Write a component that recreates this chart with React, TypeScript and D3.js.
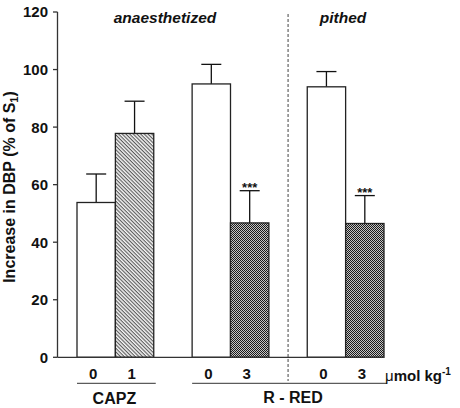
import React from "react";
import * as d3 from "d3";

const groups = ["CAPZ", "R - RED"];
const conditions = ["anaesthetized", "pithed"];
const doses = ["0", "1", "0", "3", "0", "3"];
const barGroup = [0, 0, 1, 1, 2, 2];
const barKind = ["control", "treat", "control", "treat", "control", "treat"];
const means = [53.8, 77.8, 95.0, 46.7, 94.0, 46.5];
const sems = [9.9, 11.2, 6.8, 11.2, 5.3, 9.7];
const stars = ["", "", "", "***", "", "***"];
const yTicks = [0, 20, 40, 60, 80, 100, 120];

const W = 460;
const H = 408;
const FONT = "Liberation Sans, Arial, Helvetica, sans-serif";

export default function App() {
  const y = d3.scaleLinear().domain([0, 120]).range([357.3, 12]);
  const gx = d3.scaleBand<number>().domain([0, 1, 2]).range([77, 384]).paddingInner(1 / 3).paddingOuter(0);
  const ix = d3.scaleBand<number>().domain([0, 1]).range([0, gx.bandwidth()]);
  const bw = ix.bandwidth();
  const barX = (i: number) => (gx(barGroup[i]) as number) + (ix(i % 2) as number);
  const axisColor = "#333";
  const dashX = ((gx(1) as number) + gx.bandwidth() + (gx(2) as number)) / 2;

  return (
    <svg width={W} height={H} style={{ position: "absolute", left: 0, top: 0, background: "#fff" }} fontFamily={FONT}>
      <defs>
        <pattern id="hatch" width="2.6" height="2.6" patternUnits="userSpaceOnUse" patternTransform="rotate(45)">
          <rect width="2.6" height="2.6" fill="#f4f4f4" />
          <rect width="2.6" height="1.1" fill="#5a5a5a" />
        </pattern>
        <pattern id="check" width="2" height="2" patternUnits="userSpaceOnUse">
          <rect width="2" height="2" fill="#c4c4c4" />
          <rect width="1" height="1" fill="#1a1a1a" />
          <rect x="1" y="1" width="1" height="1" fill="#1a1a1a" />
        </pattern>
      </defs>

      {/* bars */}
      {means.map((m, i) => {
        const x0 = barX(i);
        const fill = barKind[i] === "control" ? "#fff" : barGroup[i] === 0 ? "url(#hatch)" : "url(#check)";
        const cx = x0 + bw / 2;
        const yt = y(m + sems[i]);
        return (
          <g key={i}>
            <line x1={cx} x2={cx} y1={y(m)} y2={yt} stroke="#111" strokeWidth={1.3} />
            <line x1={cx - 10} x2={cx + 10} y1={yt} y2={yt} stroke="#111" strokeWidth={1.3} />
            <rect x={x0} y={y(m)} width={bw} height={y(0) - y(m)} fill={fill} stroke="#222" strokeWidth={1.3} />
            {stars[i] && (
              <text x={cx} y={yt + 1} textAnchor="middle" fontSize={13} fontWeight="bold" fill="#111">
                {stars[i]}
              </text>
            )}
            <text x={cx - 3} y={379} textAnchor="middle" fontSize={15} fontWeight="bold" fill="#111">
              {doses[i]}
            </text>
          </g>
        );
      })}

      {/* axes */}
      <line x1={57.5} x2={57.5} y1={y(120)} y2={y(0)} stroke={axisColor} strokeWidth={1.3} />
      <line x1={57.5} x2={384} y1={y(0)} y2={y(0)} stroke={axisColor} strokeWidth={1.3} />
      {yTicks.map((t) => (
        <g key={t}>
          <line x1={53} x2={57.5} y1={y(t)} y2={y(t)} stroke={axisColor} strokeWidth={1.3} />
          <text x={48} y={y(t)} dy="0.36em" textAnchor="end" fontSize={15} fontWeight="bold" fill="#111">
            {t}
          </text>
        </g>
      ))}

      {/* y label */}
      <text transform={`translate(15,187) rotate(-90)`} textAnchor="middle" fontSize={16} fontWeight="bold" fill="#111">
        Increase in DBP (% of S<tspan fontSize={11} dy="3">1</tspan><tspan dy="-3">)</tspan>
      </text>

      {/* dashed separator */}
      <line x1={dashX} x2={dashX} y1={14} y2={381} stroke="#444" strokeWidth={1} strokeDasharray="3,2" />

      {/* condition labels */}
      <text x={165} y={23} textAnchor="middle" fontSize={15.5} fontWeight="bold" fontStyle="italic" fill="#111">
        {conditions[0]}
      </text>
      <text x={343} y={23} textAnchor="middle" fontSize={15.5} fontWeight="bold" fontStyle="italic" fill="#111">
        {conditions[1]}
      </text>

      {/* group underlines */}
      <line x1={gx(0) as number} x2={(gx(0) as number) + gx.bandwidth() + 2} y1={383.3} y2={383.3} stroke="#333" strokeWidth={1} />
      <line x1={gx(1) as number} x2={(gx(2) as number) + gx.bandwidth() + 3} y1={383.3} y2={383.3} stroke="#333" strokeWidth={1} />
      <text x={(gx(0) as number) + gx.bandwidth() / 2 - 1} y={404} textAnchor="middle" fontSize={16} fontWeight="bold" fill="#111">
        {groups[0]}
      </text>
      <text x={293} y={403} textAnchor="middle" fontSize={16} fontWeight="bold" fill="#111">
        {groups[1]}
      </text>

      {/* units */}
      <text x={385} y={381} fontSize={15} fontWeight="bold" fill="#111">
        <tspan fontWeight="normal">μ</tspan>mol kg<tspan fontSize={10} dy="-6">-1</tspan>
      </text>
    </svg>
  );
}
